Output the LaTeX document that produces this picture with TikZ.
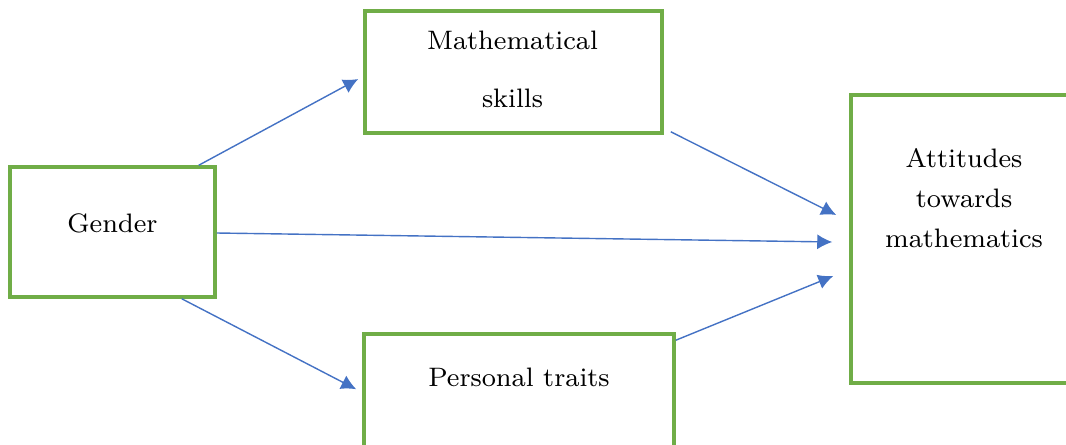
\documentclass[tikz,border=0pt]{standalone}
\usetikzlibrary{arrows.meta}
\definecolor{boxgreen}{RGB}{112,173,71}
\definecolor{arrowblue}{RGB}{68,114,196}

\begin{document}
\begin{tikzpicture}[>={Latex[length=1.5mm, width=1.5mm]},
box/.style={draw=boxgreen, line width=1pt, inner sep=0pt},
boxtext/.style={inner sep=0pt, align=center, font=\fontsize{7.6}{16.4}\selectfont},
link/.style={->, draw=arrowblue, line width=.4pt}]

%%%%%% FRAME %%%%%%%%%%

\useasboundingbox (0,0) rectangle (10.66,4.44);
\clip (0,0) rectangle (10.66,4.44);

%%%%%% BOXES %%%%%%%%%%

\node [box, minimum width=2.05cm, minimum height=1.30cm] (gender) at (1.125,2.12) {};
\node [box, minimum width=2.97cm, minimum height=1.22cm] (skills) at (5.135,3.72) {};
\node [box, minimum width=3.10cm, minimum height=1.30cm] (traits) at (5.19,0.45) {};
\node [box, minimum width=2.26cm, minimum height=2.88cm] (attitudes) at (9.64,2.05) {};

\node [boxtext] (gendertext) at ([yshift=.09cm]gender.center) {Gender};
\node [boxtext, anchor=north] (skillstext) at ([xshift=-.01cm, yshift=-.21cm]skills.north) {Mathematical\\skills};
\node [boxtext, anchor=north] (traitstext) at ([yshift=-.35cm]traits.north) {Personal traits};
\node [boxtext, anchor=north, font=\fontsize{7.6}{11.4}\selectfont] (attitudestext) at ([yshift=-.54cm]attitudes.north) {Attitudes\\towards\\mathematics};

%%%%%% ARROWS %%%%%%%%%%

\draw [link] ([xshift=-.18cm]gender.north east) -- ([xshift=-.05cm, yshift=-.07cm]skills.west);
\draw [link] ([yshift=-.01cm]gender.east) -- ([xshift=-.17cm, yshift=-.03cm]attitudes.west);
\draw [link] ([xshift=-.35cm]gender.south east) -- ([xshift=-.06cm, yshift=-.57cm]traits.north west);
\draw [link] ([xshift=.07cm, yshift=.03cm]skills.south east) -- ([xshift=-.13cm, yshift=.24cm]attitudes.west);
\draw [link] ([yshift=-.08cm]traits.north east) -- ([xshift=-.16cm, yshift=-.37cm]attitudes.west);
\end{tikzpicture}
\end{document}
